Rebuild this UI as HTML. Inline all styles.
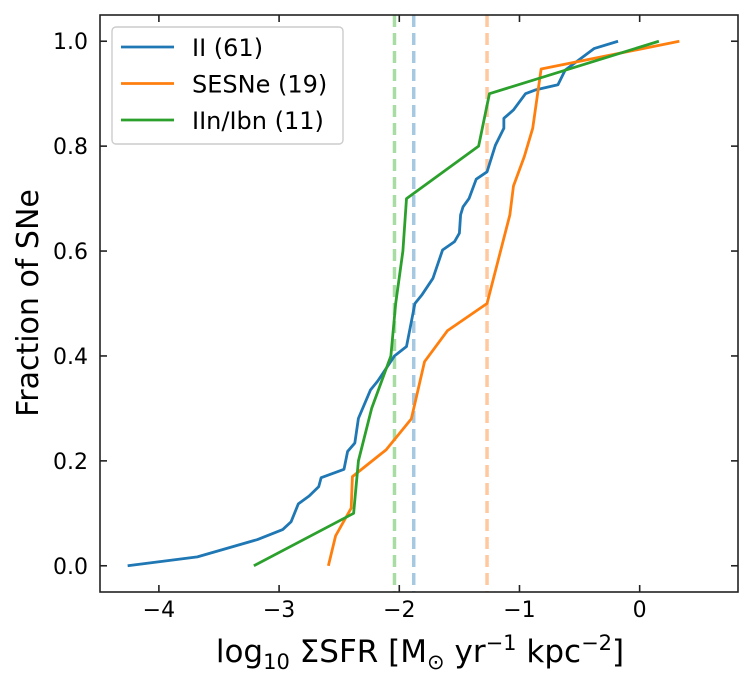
<!DOCTYPE html>
<html><head><meta charset="utf-8"><style>
body{margin:0;background:#fff;}
svg{display:block;font-family:"DejaVu Sans","Liberation Sans",sans-serif;}
</style></head><body>
<svg id="chart" width="753" height="685" viewBox="0 0 753 685">
<g id="plot"></g>
</svg>
<script>
const xTicks=[-4,-3,-2,-1,0];
const yTicks=[0.0,0.2,0.4,0.6,0.8,1.0];
const seriesNames=["II (61)","SESNe (19)","IIn/Ibn (11)"];
const seriesColors=["#1f77b4","#ff7f0e","#2ca02c"];
const iiX=[-4.26,-3.68,-3.18,-2.97,-2.90,-2.84,-2.75,-2.67,-2.65,-2.46,-2.43,-2.37,-2.34,-2.24,-2.18,-2.04,-1.94,-1.91,-1.87,-1.81,-1.72,-1.64,-1.54,-1.50,-1.49,-1.47,-1.42,-1.36,-1.27,-1.20,-1.13,-1.13,-1.05,-0.95,-0.87,-0.68,-0.62,-0.49,-0.38,-0.18];
const iiY=[0,0.017,0.05,0.069,0.084,0.118,0.133,0.151,0.168,0.184,0.218,0.234,0.281,0.335,0.352,0.40,0.418,0.453,0.50,0.517,0.548,0.602,0.618,0.634,0.669,0.684,0.70,0.737,0.751,0.802,0.834,0.853,0.869,0.90,0.907,0.917,0.945,0.967,0.986,1.0];
const seX=[-2.59,-2.53,-2.40,-2.39,-2.11,-1.90,-1.79,-1.60,-1.27,-1.08,-1.05,-0.96,-0.89,-0.82,0.33];
const seY=[0,0.057,0.11,0.17,0.221,0.28,0.389,0.448,0.50,0.669,0.724,0.78,0.834,0.947,1.0];
const inX=[-3.21,-2.38,-2.34,-2.23,-2.07,-2.03,-1.97,-1.94,-1.34,-1.25,0.16];
const inY=[0,0.10,0.20,0.30,0.40,0.50,0.60,0.70,0.80,0.90,1.0];
const medians=[-1.88,-1.27,-2.04];

const L=100,R=738,T=15,B=592;
const x0=-4.49,x1=0.818,y0=-0.05,y1=1.05;
const sx=v=>L+(v-x0)/(x1-x0)*(R-L);
const sy=v=>B-(v-y0)/(y1-y0)*(B-T);
const NS="http://www.w3.org/2000/svg";
const g=document.getElementById('plot');
function mk(tag,attrs,parent){const e=document.createElementNS(NS,tag);for(const k in attrs)e.setAttribute(k,attrs[k]);(parent||g).appendChild(e);return e;}

const medColors=["#a6c8e0","#ffc89e","#a9dca5"];
medians.forEach((m,i)=>{
 const l=mk('line',{x1:sx(m),x2:sx(m),y1:T,y2:B,stroke:medColors[i],'stroke-width':3.5,'stroke-dasharray':'12,6'});
 
 
});
[[iiX,iiY],[seX,seY],[inX,inY]].forEach((s,i)=>{
 const pts=s[0].map((x,j)=>sx(x)+','+sy(s[1][j])).join(' ');
 const p=mk('polyline',{points:pts,fill:'none',stroke:seriesColors[i],'stroke-width':2.8,'stroke-linejoin':'round'});
 
 
});
const box=mk('rect',{x:L,y:T,width:R-L,height:B-T,fill:'none',stroke:'#222','stroke-width':1.6});


xTicks.forEach(t=>{
 const x=sx(t);
 mk('line',{x1:x,x2:x,y1:B,y2:B-7,stroke:'#222','stroke-width':1.6});
 mk('line',{x1:x,x2:x,y1:T,y2:T+7,stroke:'#222','stroke-width':1.6});
 const tx=mk('text',{x:x,y:B+25,'text-anchor':'middle','font-size':22,fill:'#000'});
 tx.textContent=(t<0?'\u2212'+(-t):String(t));
 
 
});
yTicks.forEach(t=>{
 const y=sy(t);
 mk('line',{x1:L,x2:L+7,y1:y,y2:y,stroke:'#222','stroke-width':1.6});
 mk('line',{x1:R,x2:R-7,y1:y,y2:y,stroke:'#222','stroke-width':1.6});
 const tx=mk('text',{x:L-12,y:y+8,'text-anchor':'end','font-size':22,fill:'#000'});
 tx.textContent=t.toFixed(1);
 
 
});
const lg=mk('g',{});


mk('rect',{x:112,y:27,width:231,height:117,rx:4,fill:'#fff',stroke:'#ccc','stroke-width':1.4},lg);
seriesNames.forEach((n,i)=>{
 const y=47+i*36.5;
 mk('line',{x1:121,x2:174,y1:y,y2:y,stroke:seriesColors[i],'stroke-width':2.8},lg);
 const t=mk('text',{x:192,y:y+9,'font-size':24,fill:'#000'},lg);
 t.textContent=n;
 
 
});
</script>
<div style="position:absolute;left:0;top:0;width:753px;height:685px;pointer-events:none;">
<svg width="753" height="685" style="font-family:'DejaVu Sans','Liberation Sans',sans-serif;">
<text x="420" y="662" text-anchor="middle" font-size="31">log<tspan font-size="21" dy="7">10</tspan><tspan dy="-7"> ΣSFR [M</tspan><tspan font-size="21" dy="7">⊙</tspan><tspan dy="-7"> yr</tspan><tspan font-size="21" dy="-12">−1</tspan><tspan dy="12"> kpc</tspan><tspan font-size="21" dy="-12">−2</tspan><tspan dy="12">]</tspan></text>
<text transform="translate(38,303) rotate(-90)" text-anchor="middle" font-size="30">Fraction of SNe</text>
</svg></div>
</body></html>
